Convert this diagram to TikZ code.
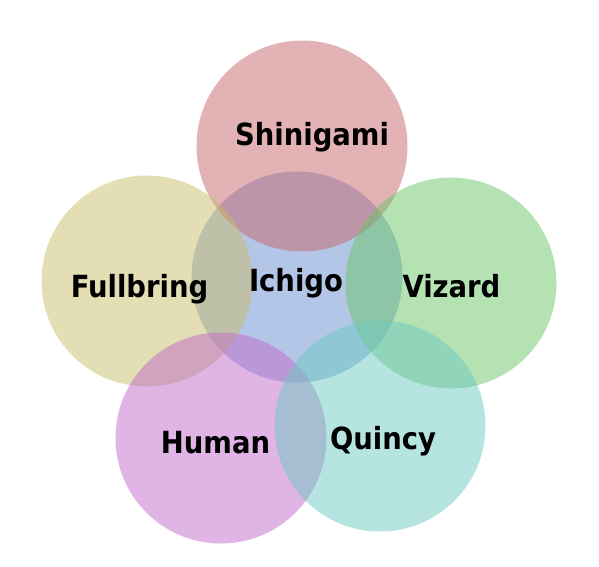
\documentclass[tikz,border=0pt]{standalone}
\usepackage{fontspec}
\setmainfont{DejaVu Sans Condensed}
\definecolor{shinicol}{RGB}{197,101,105}
\definecolor{ichicol}{RGB}{105,141,209}
\definecolor{fullcol}{RGB}{201,189,105}
\definecolor{vizcol}{RGB}{105,197,101}
\definecolor{humcol}{RGB}{193,105,201}
\definecolor{quincol}{RGB}{109,201,193}
\tikzset{
  blob/.style={circle, minimum size=211pt, inner sep=0pt, fill opacity=0.5},
  tag/.style={anchor=base, font=\fontsize{30.5}{31}\selectfont\bfseries}
}
\begin{document}
\begin{tikzpicture}[x=1pt,y=-1pt]
\useasboundingbox (0,0) rectangle (599,566);
\foreach \n/\x/\y/\c in {ichigo/297/277/ichicol,shinigami/302/146/shinicol,fullbring/147/281/fullcol,vizard/451/283/vizcol,human/221/438/humcol,quincy/380/426/quincol}
{
  \node[blob, fill=\c] (\n) at (\x,\y) {};
}
\node[tag] (tshinigami) at (312,145) {Shinigami};
\node[tag] (tfullbring) at (139.5,297) {Fullbring};
\node[tag] (tichigo) at (296,291) {Ichigo};
\node[tag] (tvizard) at (451.5,297) {Vizard};
\node[tag] (thuman) at (215.5,453) {Human};
\node[tag] (tquincy) at (383,449) {Quincy};
\end{tikzpicture}
\end{document}
